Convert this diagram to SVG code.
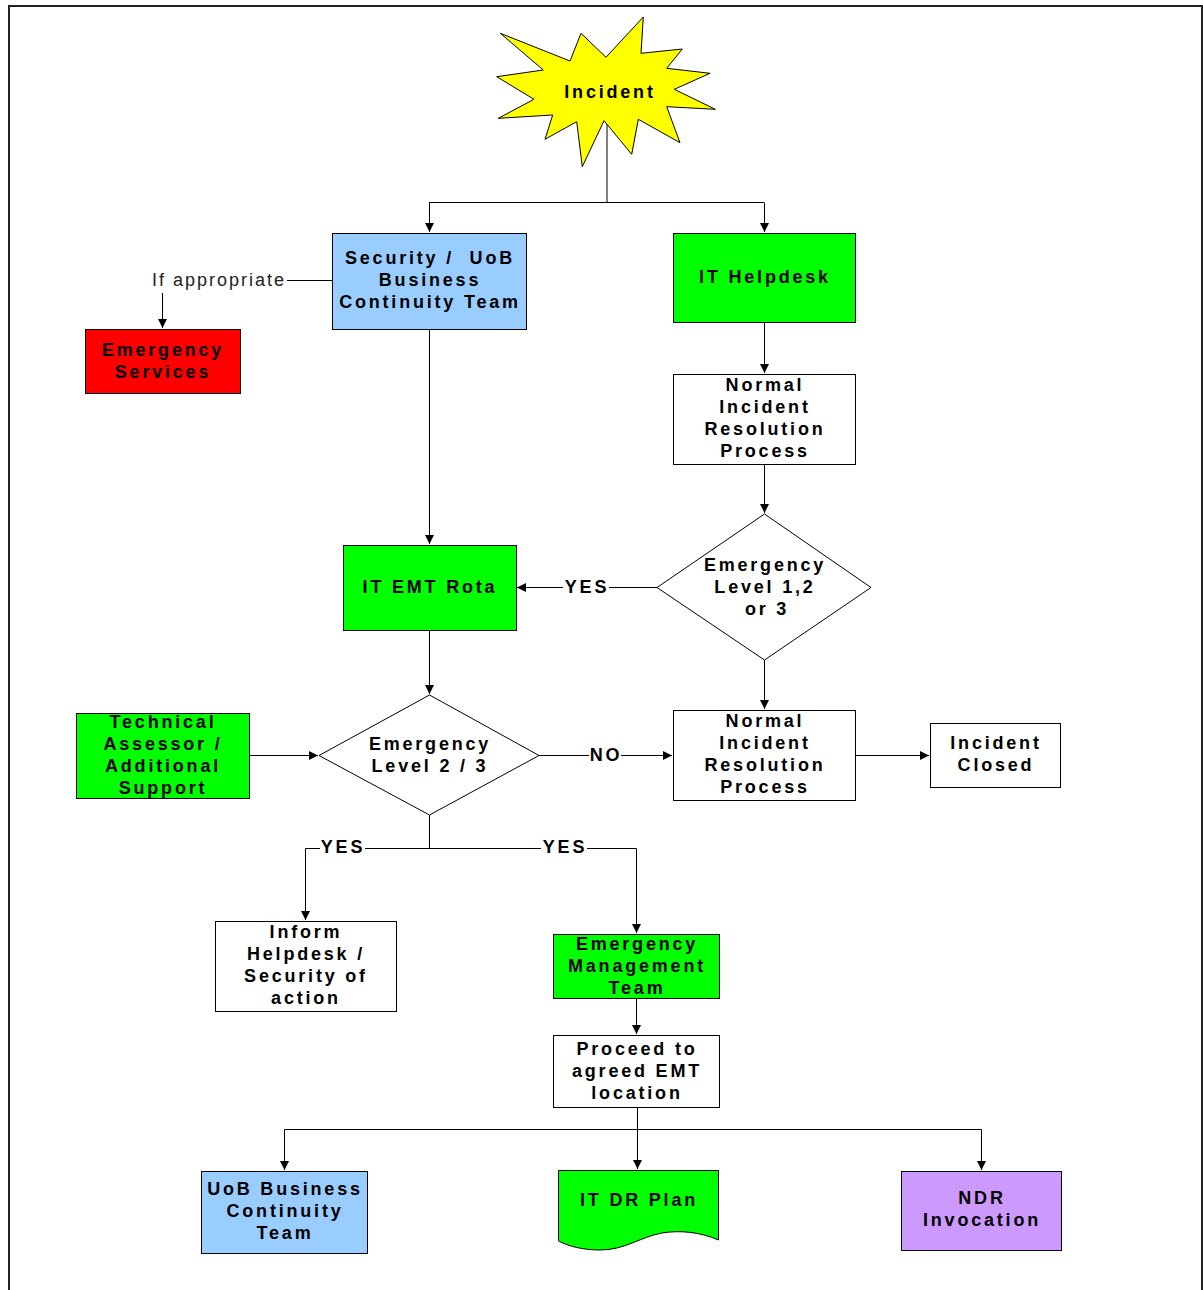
<svg xmlns="http://www.w3.org/2000/svg" width="1203" height="1290" viewBox="0 0 1203 1290">
<defs>
<marker id="ah" viewBox="0 0 10 10" refX="10" refY="5" markerWidth="9" markerHeight="9" markerUnits="userSpaceOnUse" orient="auto">
<path d="M0,0 L10,5 L0,10 Z" fill="#000"/>
</marker>
<style>
.n{stroke:#000;stroke-width:1}
.w{fill:#fff}
.g{fill:#00ff00}
.b{fill:#99ccff}
.r{fill:#ff0000}
.p{fill:#cc99ff}
.y{fill:#ffff00}
text{font-family:"Liberation Sans",Arial,sans-serif;font-size:18px;font-weight:bold;letter-spacing:2.8px;text-anchor:middle;fill:#000}
.t{font-weight:normal;letter-spacing:2px;fill:#222}
.c{fill:none;stroke:#000;stroke-width:1}
.ca{fill:none;stroke:#000;stroke-width:1;marker-end:url(#ah)}
</style>
</defs>
<rect x="9" y="6" width="1193" height="1300" fill="#fff" stroke="#222" stroke-width="2"/>

<g id="connectors">
<path class="c" d="M607,120 V202.5 M429,202.5 H764"/>
<path class="ca" d="M429.5,202.5 V232"/>
<path class="ca" d="M764.5,202.5 V232"/>
<path class="c" d="M287,280.5 H332" stroke="#555"/>
<path class="ca" d="M162.5,293 V328"/>
<path class="ca" d="M429.5,329 V544"/>
<path class="ca" d="M764.5,322 V373"/>
<path class="ca" d="M764.5,464 V513"/>
<path class="c" d="M657,587.5 H609"/>
<path class="ca" d="M563,587.5 H517"/>
<path class="ca" d="M764.5,660 V709"/>
<path class="ca" d="M429.5,630 V694"/>
<path class="ca" d="M249,755.5 H318"/>
<path class="c" d="M539,755.5 H589"/>
<path class="ca" d="M621,755.5 H672"/>
<path class="ca" d="M855,755.5 H929"/>
<path class="c" d="M429.5,815 V848.5 M365,848.5 H541 M320,848.5 H305.5 M587,848.5 H636.5"/>
<path class="ca" d="M305.5,848.5 V920"/>
<path class="ca" d="M636.5,848.5 V933"/>
<path class="ca" d="M636.5,998 V1034"/>
<path class="ca" d="M637.5,1107 V1169"/>
<path class="c" d="M284.5,1129.5 H981.5"/>
<path class="ca" d="M284.5,1129.5 V1170"/>
<path class="ca" d="M981.5,1129.5 V1170"/>
</g>

<g id="labels">
<text x="587" y="593">YES</text>
<text x="606" y="761">NO</text>
<text x="343" y="853">YES</text>
<text x="565" y="853">YES</text>
<text class="t" x="219" y="286">If appropriate</text>
</g>

<g id="incident">
<polygon class="n y" points="500.3,33.3 570,61 581,33.3 606,57.3 643.3,17 641,53.3 682.3,49 666.7,68.3 710,73.3 674.3,89.3 715.3,109.3 666.7,106.7 680,142.7 638.3,119.3 631.7,154.3 604,120.7 582.3,166.7 576.7,121.7 545,139.3 552.7,115 498.3,118.3 534,99.3 496.7,76.7 543.3,70"/>
<text x="610" y="98">Incident</text>
</g>

<g id="security">
<rect class="n b" x="332.5" y="233.5" width="194" height="96"/>
<text x="430" y="264">Security /&#160; UoB</text>
<text x="430" y="286">Business</text>
<text x="430" y="308">Continuity Team</text>
</g>

<g id="helpdesk">
<rect class="n g" x="673.5" y="233.5" width="182" height="89"/>
<text x="765" y="283">IT Helpdesk</text>
</g>

<g id="emergency-services">
<rect class="n r" x="85.5" y="329.5" width="155" height="64"/>
<text x="163" y="356">Emergency</text>
<text x="163" y="378">Services</text>
</g>

<g id="nirp1">
<rect class="n w" x="673.5" y="374.5" width="182" height="90"/>
<text x="765" y="391">Normal</text>
<text x="765" y="413">Incident</text>
<text x="765" y="435">Resolution</text>
<text x="765" y="457">Process</text>
</g>

<g id="decision1">
<polygon class="n w" points="764.5,514 871,587.5 764.5,660 657,587.5"/>
<text x="765" y="571">Emergency</text>
<text x="765" y="593">Level 1,2</text>
<text x="767" y="615">or 3</text>
</g>

<g id="emt-rota">
<rect class="n g" x="343.5" y="545.5" width="173" height="85"/>
<text x="430" y="593">IT EMT Rota</text>
</g>

<g id="tech-assessor">
<rect class="n g" x="76.5" y="713.5" width="173" height="85"/>
<text x="163" y="728">Technical</text>
<text x="163" y="750">Assessor /</text>
<text x="163" y="772">Additional</text>
<text x="163" y="794">Support</text>
</g>

<g id="decision2">
<polygon class="n w" points="429.5,695 539,755.5 429.5,815 319,755.5"/>
<text x="430" y="750">Emergency</text>
<text x="430" y="772">Level 2 / 3</text>
</g>

<g id="nirp2">
<rect class="n w" x="673.5" y="710.5" width="182" height="90"/>
<text x="765" y="727">Normal</text>
<text x="765" y="749">Incident</text>
<text x="765" y="771">Resolution</text>
<text x="765" y="793">Process</text>
</g>

<g id="closed">
<rect class="n w" x="930.5" y="723.5" width="130" height="64"/>
<text x="996" y="749">Incident</text>
<text x="996" y="771">Closed</text>
</g>

<g id="inform">
<rect class="n w" x="215.5" y="921.5" width="181" height="90"/>
<text x="306" y="938">Inform</text>
<text x="306" y="960">Helpdesk /</text>
<text x="306" y="982">Security of</text>
<text x="306" y="1004">action</text>
</g>

<g id="emt">
<rect class="n g" x="553.5" y="934.5" width="166" height="64"/>
<text x="637" y="950">Emergency</text>
<text x="637" y="972">Management</text>
<text x="637" y="994">Team</text>
</g>

<g id="proceed">
<rect class="n w" x="553.5" y="1035.5" width="166" height="72"/>
<text x="637" y="1055">Proceed to</text>
<text x="637" y="1077">agreed EMT</text>
<text x="637" y="1099">location</text>
</g>

<g id="uob-bct">
<rect class="n b" x="201.5" y="1171.5" width="166" height="82"/>
<text x="285" y="1195">UoB Business</text>
<text x="285" y="1217">Continuity</text>
<text x="285" y="1239">Team</text>
</g>

<g id="dr-plan">
<path class="n g" d="M558.5,1170.5 H718.5 V1240 C700,1232 680,1230 662,1233 C640,1237 625,1250 600,1250 C585,1250 570,1247 558.5,1241 Z"/>
<text x="639" y="1206">IT DR Plan</text>
</g>

<g id="ndr">
<rect class="n p" x="901.5" y="1171.5" width="160" height="79"/>
<text x="982" y="1204">NDR</text>
<text x="982" y="1226">Invocation</text>
</g>
</svg>
